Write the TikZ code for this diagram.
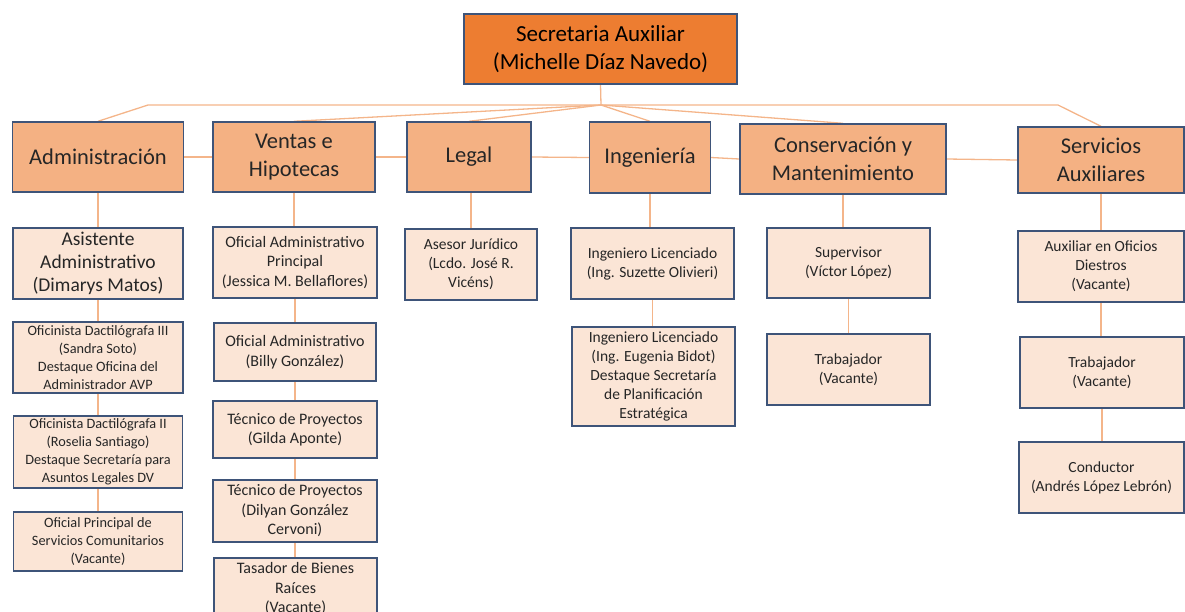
\documentclass[tikz,border=0pt]{standalone}
\usepackage{fontspec}
\setmainfont{Carlito}
\usetikzlibrary{backgrounds}

\definecolor{topfill}{HTML}{ED7D31}
\definecolor{deptfill}{HTML}{F4B183}
\definecolor{subfill}{HTML}{FBE5D6}
\definecolor{edge}{HTML}{3E5479}
\definecolor{linkcol}{HTML}{F4B58A}
\definecolor{ink}{HTML}{262626}

% font size with Calibri-like leading
\newcommand{\fsz}[2]{\fontsize{#1}{#2}\selectfont}

\begin{document}
\begin{tikzpicture}[x=1pt,y=-1pt,
  box/.style={draw=edge,line width=1.4pt,align=center,inner sep=0pt,text=ink},
  topbox/.style={box,fill=topfill,text=black,font=\fsz{23}{28}},
  dept/.style={box,fill=deptfill,font=\fsz{22.5}{28}},
  subbox/.style={box,fill=subfill,font=\fsz{15.5}{19}},
  small/.style={font=\fsz{14.3}{18}},
  mid/.style={font=\fsz{16}{19.5}},
  big/.style={font=\fsz{19.5}{23}},
  link/.style={draw=linkcol,line width=1.3pt},
  wh/.style 2 args={minimum width=#1pt,minimum height=#2pt}]

\useasboundingbox (0,0) rectangle (1185,611);

% head of the office
\node[topbox,wh={273}{70}] (top) at (600.5,49) {Secretaria Auxiliar\\(Michelle Díaz Navedo)};

% departments
\node[dept,wh={171}{70}] (adm) at (98,157) {Administración};
\node[dept,wh={162}{70}] (ven) at (294,157) {Ventas e\\Hipotecas};
\node[dept,wh={124}{70}] (leg) at (469,157) {Legal};
\node[dept,wh={121}{71}] (ing) at (650,157.5) {Ingeniería};
\node[dept,wh={206}{70}] (con) at (843,159) {Conservación y\\Mantenimiento};
\node[dept,wh={166}{66}] (srv) at (1101,160) {Servicios\\Auxiliares};

% Administración
\node[subbox,big,wh={170}{71}] (a1) at (98,263.5) {Asistente\\Administrativo\\(Dimarys Matos)};
\node[subbox,small,wh={170}{71}] (a2) at (98,357.5) {Oficinista Dactilógrafa III\\(Sandra Soto)\\Destaque Oficina del\\Administrador AVP};
\node[subbox,small,wh={169}{72}] (a3) at (98,452) {Oficinista Dactilógrafa II\\(Roselia Santiago)\\Destaque Secretaría para\\Asuntos Legales DV};
\node[subbox,small,wh={169}{59}] (a4) at (98,541.5) {Oficial Principal de\\Servicios Comunitarios\\(Vacante)};

% Ventas e Hipotecas
\node[subbox,mid,wh={164}{71}] (v1) at (295,262.5) {Oficial Administrativo\\Principal\\(Jessica M. Bellaflores)};
\node[subbox,mid,wh={162}{58}] (v2) at (295,352) {Oficial Administrativo\\(Billy González)};
\node[subbox,mid,wh={164}{57}] (v3) at (295,429.5) {Técnico de Proyectos\\(Gilda Aponte)};
\node[subbox,mid,wh={164}{62}] (v4) at (295,511) {Técnico de Proyectos\\(Dilyan González\\Cervoni)};
\node[subbox,mid,wh={163}{62}] (v5) at (295.5,589) {Tasador de Bienes\\Raíces\\(Vacante)};

% Legal
\node[subbox,wh={132}{71}] (l1) at (471,264.5) {Asesor Jurídico\\(Lcdo. José R.\\Vicéns)};

% Ingeniería
\node[subbox,wh={163}{71}] (i1) at (652.5,263.5) {Ingeniero Licenciado\\(Ing. Suzette Olivieri)};
\node[subbox,wh={163}{99}] (i2) at (653.5,376.5) {Ingeniero Licenciado\\(Ing. Eugenia Bidot)\\Destaque Secretaría\\de Planificación\\Estratégica};

% Conservación y Mantenimiento
\node[subbox,wh={163}{70}] (c1) at (848.5,263) {Supervisor\\(Víctor López)};
\node[subbox,wh={163}{71}] (c2) at (848.5,369.5) {Trabajador\\(Vacante)};

% Servicios Auxiliares
\node[subbox,wh={166}{71}] (s1) at (1101,266.5) {Auxiliar en Oficios\\Diestros\\(Vacante)};
\node[subbox,wh={164}{71}] (s2) at (1102,372.5) {Trabajador\\(Vacante)};
\node[subbox,wh={165}{71}] (s3) at (1101.5,477.5) {Conductor\\(Andrés López Lebrón)};

\begin{scope}[on background layer]
  % fan-out from the head box
  \coordinate (hub) at (601,105);
  \coordinate (admbend) at (148,105);
  \coordinate (srvbend) at (1058,105);
  \draw[link] (top.south) -- (hub);
  \draw[link] (hub) -- (admbend) -- (adm.north);
  \draw[link] (hub) -- (ven.north);
  \draw[link] (hub) -- (leg.north);
  \draw[link] (hub) -- (ing.north);
  \draw[link] (hub) -- (con.north);
  \draw[link] (hub) -- (srvbend) -- (srv.north);
  % links along the department row
  \draw[link] (adm.east) -- (ven.west);
  \draw[link] (ven.east) -- (leg.west);
  \draw[link] (leg.east) -- (ing.west);
  \draw[link] (ing.east) -- (con.west);
  \draw[link] (con.east) -- (srv.west);
  % columns
  \draw[link] (adm.south) -- (adm.south |- a1.north);
  \draw[link] (a1.south) -- (a1.south |- a2.north);
  \draw[link] (a2.south) -- (a2.south |- a3.north);
  \draw[link] (a3.south) -- (a3.south |- a4.north);
  \draw[link] (ven.south) -- (ven.south |- v1.north);
  \draw[link] (v1.south) -- (v1.south |- v2.north);
  \draw[link] (v2.south) -- (v2.south |- v3.north);
  \draw[link] (v3.south) -- (v3.south |- v4.north);
  \draw[link] (v4.south) -- (v4.south |- v5.north);
  \draw[link] (l1.north) -- (l1.north |- leg.south);
  \draw[link] (ing.south) -- (ing.south |- i1.north);
  \draw[link] (i1.south) -- (i1.south |- i2.north);
  \draw[link] (con.south) -- (con.south |- c1.north);
  \draw[link] (c1.south) -- (c1.south |- c2.north);
  \draw[link] (srv.south) -- (srv.south |- s1.north);
  \draw[link] (s1.south) -- (s1.south |- s2.north);
  \draw[link] (s2.south) -- (s2.south |- s3.north);
\end{scope}
\end{tikzpicture}
\end{document}
